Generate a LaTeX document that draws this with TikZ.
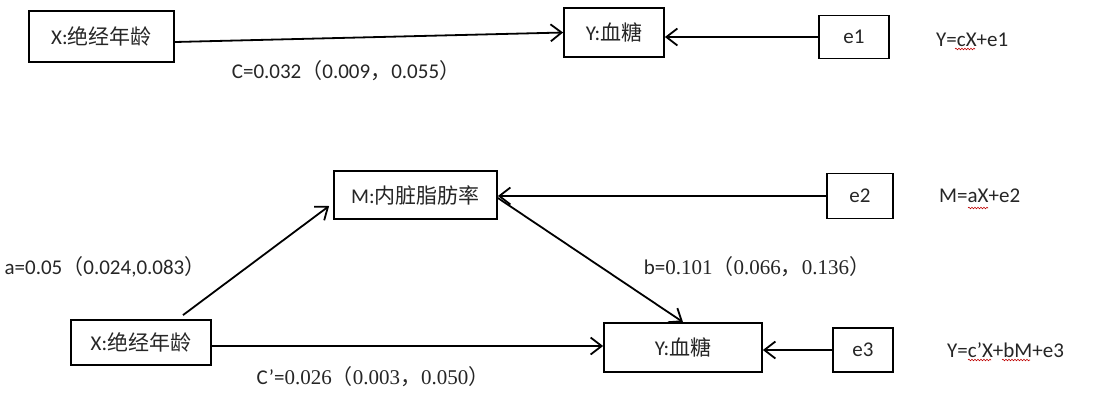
\documentclass[tikz,border=0pt]{standalone}
\usepackage{fontspec}
\setmainfont{Carlito}
\newfontfamily\cjk{Noto Sans CJK SC}
\newfontfamily\serifd{Liberation Serif}
\usetikzlibrary{arrows.meta,calc,decorations.pathmorphing}
\begin{document}
\begin{tikzpicture}[x=1pt,y=-1pt,
  every node/.style={font=\fontsize{21}{25}\selectfont,text=black!85},
  box/.style={draw,line width=1.8pt,inner sep=0pt},
  arr/.style={line width=1.8pt,-{Straight Barb[length=11pt,width=17pt,line width=1.8pt]}},
  lbl/.style={inner sep=0pt},
  eq/.style={inner sep=0pt,anchor=west},
  squig/.style={red!75!black,line width=0.6pt,decorate,decoration={snake,amplitude=0.8pt,segment length=3pt}}
]
\fill[white] (0,0) rectangle (1110,392);
\path[use as bounding box] (0,0) rectangle (1110,392);

% top model
\node[box,minimum width=145pt,minimum height=51pt] (X1) at (101.5,36.5) {X:{\cjk 绝经年龄}\hspace{14pt}};
\node[box,minimum width=100pt,minimum height=49pt] (Y1) at (614,32.5) {Y:{\cjk 血糖}\hspace{14pt}};
\node[box,minimum width=70pt,minimum height=43pt] (e1) at (854,37) {e1};
\node[eq] (eq1) at (936,40) {Y=cX+e1};
\node[lbl] (c) at (346,71) {C=0.032{\cjk （}0.009{\cjk ，}0.055{\cjk ）}};

\draw[arr] ([yshift=-5.5pt]X1.east) -- (Y1.west);
\draw[arr] (e1.west) -- (e1.west -| Y1.east);
\draw[squig] (955,49) -- (975,49);

% mediation model
\node[box,minimum width=163pt,minimum height=48pt] (M) at (415.5,195) {M:{\cjk 内脏脂肪率}};
\node[box,minimum width=66pt,minimum height=45pt] (e2) at (860,196) {e2};
\node[eq] (eq2) at (939,196) {M=aX+e2};
\node[box,minimum width=140pt,minimum height=45pt] (X2) at (141,342.5) {X:{\cjk 绝经年龄}};
\node[box,minimum width=158pt,minimum height=49pt] (Y2) at (683,347.5) {Y:{\cjk 血糖}};
\node[box,minimum width=60pt,minimum height=44pt] (e3) at (863,350) {e3};
\node[eq] (eq3) at (947,350) {Y=c’X+bM+e3};

\node[lbl] (a) at (105,267) {a=0.05{\cjk （}0.024,0.083{\cjk ）}};
\node[lbl] (b) at (757,267) {b={\serifd 0.101}{\cjk （}{\serifd 0.066}{\cjk ，}{\serifd 0.136}{\cjk ）}};
\node[lbl] (cp) at (373,377) {C’={\serifd 0.026}{\cjk （}{\serifd 0.003}{\cjk ，}{\serifd 0.050}{\cjk ）}};

\draw[arr] ($(X2.north)+(42,-4)$) -- ($(M.west)+(-4,11)$);
\draw[arr] ([yshift=-3.5pt]X2.east) -- ([yshift=-3.5pt]X2.east -| Y2.west);
\draw[arr] ([yshift=-3pt]M.east) -- (Y2.north);
\draw[arr] (e2.west) -- (e2.west -| M.east);
\draw[arr] (e3.west) -- (e3.west -| Y2.east);

\draw[squig] (968,208) -- (988,208);
\draw[squig] (968,360) -- (991,360);
\draw[squig] (1002,360) -- (1030,360);
\end{tikzpicture}
\end{document}
